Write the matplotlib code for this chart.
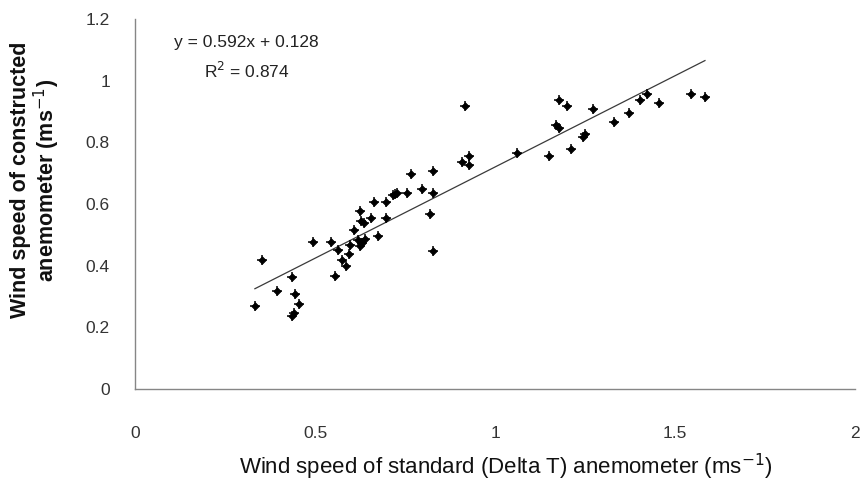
import numpy as np
import matplotlib.pyplot as plt

# Wind speed readings (ms-1)
standard_speed = [0.333, 0.353, 0.394, 0.435, 0.444, 0.455, 0.436, 0.443, 0.494, 0.544,
                  0.555, 0.564, 0.576, 0.585, 0.595, 0.596, 0.607, 0.625, 0.628, 0.636,
                  0.620, 0.630, 0.626, 0.655, 0.664, 0.676, 0.696, 0.696, 0.717, 0.729,
                  0.755, 0.767, 0.797, 0.827, 0.827, 0.818, 0.827, 0.917, 0.908, 0.929,
                  0.929, 1.060, 1.150, 1.179, 1.201, 1.170, 1.179, 1.211, 1.245, 1.249,
                  1.272, 1.331, 1.372, 1.402, 1.421, 1.454, 1.545, 1.583, 0.722, 0.640]
constructed_speed = [0.268, 0.417, 0.318, 0.363, 0.308, 0.276, 0.238, 0.247, 0.478, 0.478,
                     0.367, 0.450, 0.417, 0.398, 0.439, 0.466, 0.517, 0.578, 0.544, 0.539,
                     0.482, 0.474, 0.463, 0.556, 0.606, 0.496, 0.606, 0.556, 0.629, 0.634,
                     0.636, 0.697, 0.647, 0.636, 0.706, 0.567, 0.448, 0.918, 0.735, 0.756,
                     0.726, 0.766, 0.756, 0.938, 0.918, 0.856, 0.846, 0.777, 0.818, 0.826,
                     0.907, 0.867, 0.894, 0.938, 0.956, 0.927, 0.956, 0.946, 0.632, 0.487]

# Linear trend reported on the chart
slope, intercept = 0.592, 0.128
r_squared = 0.874

x_ticks = [0, 0.5, 1, 1.5, 2]
x_tick_labels = ['0', '0.5', '1', '1.5', '2']
y_ticks = [0, 0.2, 0.4, 0.6, 0.8, 1.0, 1.2]
y_tick_labels = ['0', '0.2', '0.4', '0.6', '0.8', '1', '1.2']

plt.rcParams['font.family'] = ['Liberation Sans', 'DejaVu Sans']

fig = plt.figure(figsize=(8.62, 4.82), dpi=100, facecolor='white')
ax = fig.add_axes([0.1566, 0.193, 0.8354, 0.7676])

# --- Scatter points (small diamonds with a cross, Excel style) ---
ax.scatter(standard_speed, constructed_speed, marker='D', s=14, color='black',
           edgecolors='black', linewidths=0.6, zorder=3)
ax.scatter(standard_speed, constructed_speed, marker='+', s=55, color='black',
           linewidths=1.1, zorder=3)

# --- Trend line across the data range ---
trend_x = np.array([min(standard_speed), max(standard_speed)])
trend_y = slope * trend_x + intercept
ax.plot(trend_x, trend_y, color='#3a3a3a', linewidth=0.9, zorder=2)

ax.text(0.31, 1.123, f'y = {slope}x + {intercept}', fontsize=12.5, ha='center',
        va='center', color='#222222')
ax.text(0.31, 1.032, f'R$^2$ = {r_squared}', fontsize=12.5, ha='center',
        va='center', color='#222222')

# --- Axes styling ---
ax.set_xlim(0, 2)
ax.set_ylim(0, 1.2)
ax.set_xticks(x_ticks)
ax.set_xticklabels(x_tick_labels)
ax.set_yticks(y_ticks)
ax.set_yticklabels(y_tick_labels)
ax.tick_params(axis='both', length=0, labelsize=12.5, colors='#333333')
ax.tick_params(axis='x', pad=27)
ax.tick_params(axis='y', pad=18)
for side in ['top', 'right']:
    ax.spines[side].set_visible(False)
for side in ['left', 'bottom']:
    ax.spines[side].set_color('#868686')
    ax.spines[side].set_linewidth(1.0)

fig.text(506 / 862, 1 - 467 / 482,
         r'Wind speed of standard (Delta T) anemometer (ms$^{-1}$)',
         fontsize=16, ha='center', va='center', color='#111111')
fig.text(36 / 862, 1 - 180 / 482,
         'Wind speed of constructed\nanemometer (ms$^{-1}$)',
         fontsize=15.5, fontweight='bold', rotation=90, ha='center', va='center',
         multialignment='center', linespacing=1.0, color='#111111')

plt.savefig('out.png', dpi=100)
